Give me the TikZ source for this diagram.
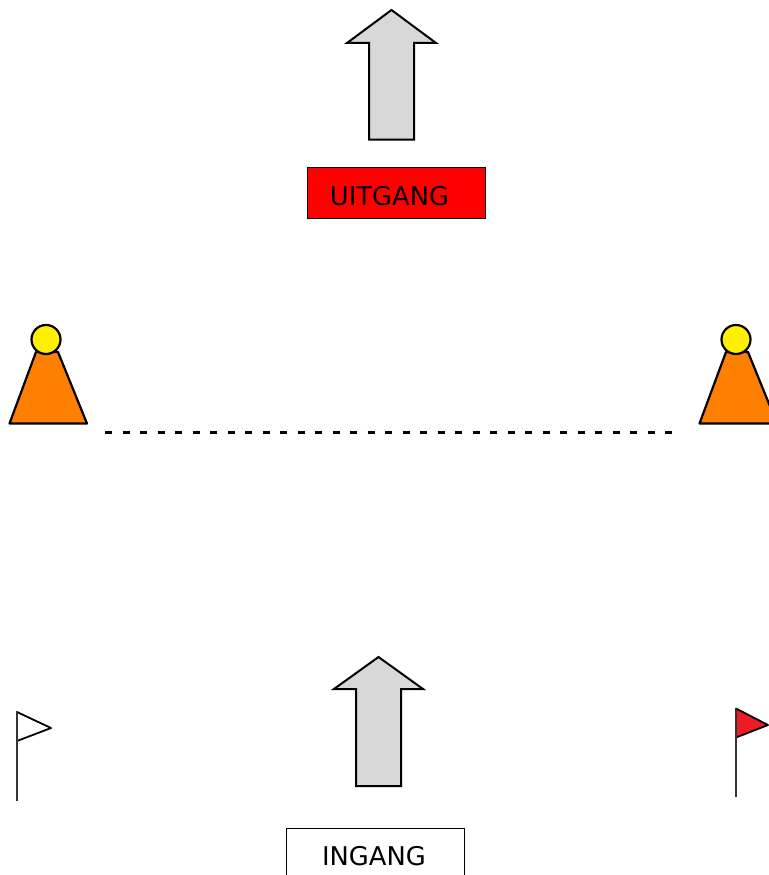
\documentclass[tikz,border=0pt]{standalone}
\usepackage{fontspec}
\setmainfont{DejaVu Sans}
\definecolor{arrowgrey}{RGB}{216,216,216}
\definecolor{coneorange}{RGB}{255,128,0}
\definecolor{coneyellow}{RGB}{255,240,0}
\definecolor{flagred}{RGB}{237,28,36}
\tikzset{
  bigarrow/.style={draw=black,fill=arrowgrey,line width=2pt,line join=miter},
  conebody/.style={draw=black,fill=coneorange,line width=2.2pt,line join=round},
  conetop/.style={draw=black,fill=coneyellow,line width=2.2pt},
  flagline/.style={draw=black!80,line width=2.6pt},
  flagcloth/.style={draw=black,line width=1.8pt,line join=round},
  signbox/.style={draw=black,line width=1pt,minimum width=178pt,inner sep=0pt},
  signtext/.style={inner sep=0pt,font=\fontsize{25.8pt}{30pt}\selectfont},
  lane/.style={draw=black,line width=2.6pt,dash pattern=on 7pt off 10.5pt}
}
\begin{document}
\begin{tikzpicture}[x=1pt,y=-1pt]
\useasboundingbox (0,0) rectangle (768,875);
% top arrow
\draw[bigarrow] (391.5,10)--(436,43)--(414,43)--(414,139.5)--(369,139.5)--(369,43)--(347,43)--cycle;
% exit sign
\node[signbox,fill=red,minimum height=51pt] (exit) at (396,192.5) {};
\node[signtext] (exittext) at (389.5,196) {UITGANG};
% cones
\draw[conebody] (9.5,423.5)--(36,352)--(58,352)--(87,423.5)--cycle;
\draw[conetop] (46,339.5) circle (14.5);
\draw[conebody] (699.5,423.5)--(726,352)--(748,352)--(777,423.5)--cycle;
\draw[conetop] (736,339.5) circle (14.5);
% finish line
\coordinate (lineA) at (105,432.5);
\coordinate (lineB) at (674,432.5);
\draw[lane] (lineA)--(lineB);
% bottom arrow
\draw[bigarrow] (378.5,657)--(423,689)--(401,689)--(401,786)--(356,786)--(356,689)--(334,689)--cycle;
% entrance sign
\node[signbox,fill=white,minimum height=60pt,anchor=north] (entry) at (375,827.5) {};
\node[signtext] (entrytext) at (374,856) {INGANG};
% left flag
\draw[flagcloth,fill=white] (17,712)--(51,728)--(17,741);
\draw[flagline] (17,711)--(17,800.5);
% right flag
\draw[flagcloth,fill=flagred] (736,708.5)--(768,725)--(736,737.5)--cycle;
\draw[flagline] (736,708)--(736,796.5);
\end{tikzpicture}
\end{document}
